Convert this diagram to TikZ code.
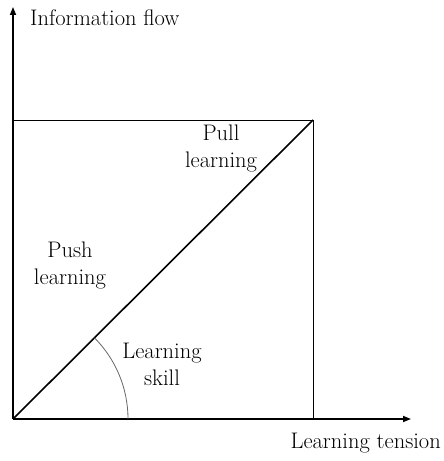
\documentclass[tikz,border=0pt]{standalone}
\usetikzlibrary{arrows.meta}
\begin{document}
\begin{tikzpicture}[x=1pt,y=1pt,
  axis/.style={line width=1.6pt,-{Triangle[length=8pt,width=6pt]}},
  thin/.style={line width=0.9pt},
  lbl/.style={font=\fontsize{22.5}{27}\selectfont,align=center,inner sep=0pt}]
\useasboundingbox (0,0) rectangle (444,461);
\coordinate (O) at (13,42);
\coordinate (Xend) at (411,42);
\coordinate (Yend) at (13,454);
\coordinate (TL) at (13,341);
\coordinate (TR) at (313,341);
\coordinate (BR) at (313,42);
\draw[thin] (TL) -- (TR) -- (BR);
\draw[axis] (O) -- (Xend);
\draw[axis] (O) -- (Yend);
\draw[line width=1.6pt] (O) -- (TR);
\draw[line width=0.8pt,gray!80!black] (128,42) arc[start angle=0,end angle=44.9,radius=115];
\node[lbl,anchor=west] (yl) at (30,443) {Information flow};
\node[lbl,anchor=east] (xl) at (441,18) {Learning tension};
\node[lbl] (pull) at (221,313) {Pull\\learning};
\node[lbl] (push) at (70,196) {Push\\learning};
\node[lbl] (skill) at (162,97) {Learning\\skill};
\end{tikzpicture}
\end{document}
